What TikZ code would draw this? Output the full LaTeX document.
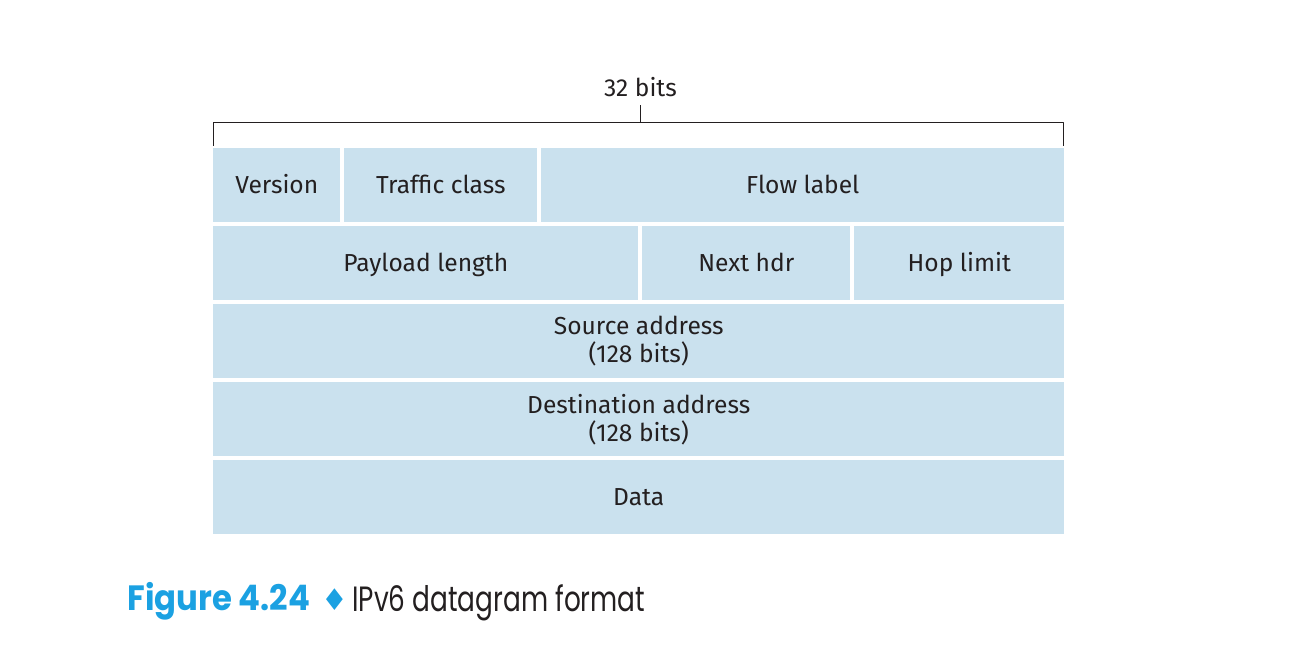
\documentclass[tikz,border=0pt]{standalone}
\usepackage{fontspec}
\setmainfont{Fira Sans}
\newfontfamily\capfont[FakeStretch=0.75]{Poppins}
\newfontfamily\figfont[FakeStretch=0.92]{Poppins}
\newfontfamily\symfont{DejaVu Sans}
\definecolor{fieldblue}{RGB}{202,225,238}
\definecolor{figblue}{RGB}{27,161,226}
\definecolor{inkgray}{RGB}{35,31,32}
\tikzset{
	field/.style={fill=fieldblue, inner sep=0pt, anchor=north west, minimum height=1.48cm, text=inkgray, align=center, font=\fontsize{14}{16}\selectfont},
	onerow/.style={field, text height=0.93em, text depth=0pt},
}
\begin{document}
\begin{tikzpicture}[x=0.02cm, y=-0.02cm, line join=round, line cap=butt]
	\useasboundingbox (0,0) rectangle (1298,662);
	% header, row 1
	\node[onerow, minimum width=2.54cm] (ver) at (213,148) {Version};
	\node[onerow, minimum width=3.86cm] (tc) at (344,148) {Traffic class};
	\node[onerow, minimum width=10.46cm] (flow) at (541,148) {Flow label};
	% row 2
	\node[onerow, minimum width=8.5cm] (plen) at (213,226) {Payload length};
	\node[onerow, minimum width=4.16cm] (nhdr) at (642,226) {Next hdr};
	\node[onerow, minimum width=4.2cm] (hop) at (854,226) {Hop limit};
	% addresses and data
	\node[field, minimum width=17.02cm] (src) at (213,304) {Source address\\(128 bits)};
	\node[field, minimum width=17.02cm] (dst) at (213,382) {Destination address\\(128 bits)};
	\node[onerow, minimum width=17.02cm] (data) at (213,460) {Data};
	% 32 bits bracket
	\node[text=inkgray, inner sep=0pt, anchor=base, font=\fontsize{14}{16}\selectfont] (bits) at (640.5,97) {32 bits};
	\coordinate (tick) at (640.5,122.5);
	\draw[inkgray, line width=0.6pt] (213.5,146) |- (1063.5,122.5) -- (1063.5,146);
	\draw[inkgray, line width=0.6pt] (tick) -- (640.5,105);
	% caption
	\node[anchor=base west, inner sep=0pt, text=figblue, font=\fontsize{20}{22}\bfseries\figfont] (fig) at (127,610) {Figure 4.24};
	\node[anchor=base west, inner sep=0pt, text=figblue, font=\fontsize{17}{20}\symfont] (dia) at (321,610) {♦};
	\node[anchor=base west, inner sep=0pt, text=inkgray, font=\fontsize{20}{22}\capfont] (title) at (352,611) {IPv6 datagram format};
\end{tikzpicture}
\end{document}
